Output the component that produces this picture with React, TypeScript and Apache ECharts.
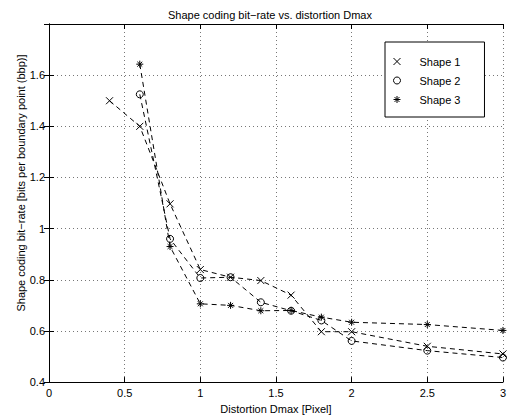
import React, { useEffect, useRef } from "react";
import * as echarts from "echarts";

const distortion = [0.4, 0.6, 0.8, 1.0, 1.2, 1.4, 1.6, 1.8, 2.0, 2.5, 3.0];
const shape1 = [1.5, 1.4, 1.097, 0.84, 0.81, 0.797, 0.74, 0.597, 0.597, 0.54, 0.51];
const shape2x = [0.6, 0.8, 1.0, 1.2, 1.4, 1.6, 1.8, 2.0, 2.5, 3.0];
const shape2 = [1.525, 0.96, 0.807, 0.81, 0.712, 0.679, 0.641, 0.561, 0.523, 0.496];
const shape3x = [0.6, 0.8, 1.0, 1.2, 1.4, 1.6, 1.8, 2.0, 2.5, 3.0];
const shape3 = [1.643, 0.93, 0.706, 0.70, 0.679, 0.68, 0.654, 0.634, 0.625, 0.602];
const seriesNames = ["Shape 1", "Shape 2", "Shape 3"];
const xTicks = [0, 0.5, 1, 1.5, 2, 2.5, 3];
const yTicks = [0.4, 0.6, 0.8, 1, 1.2, 1.4, 1.6];

const titleText = "Shape coding bit\u2212rate vs. distortion Dmax";
const xName = "Distortion Dmax [Pixel]";
const yName = "Shape coding bit\u2212rate [bits per boundary point (bbp)]";

const X_ICON = "path://M0 0L10 10M10 0L0 10";
const STAR_ICON = "path://M5 0L5 10M0 5L10 5M1.5 1.5L8.5 8.5M8.5 1.5L1.5 8.5";
const symbols = [X_ICON, "circle", STAR_ICON];

const FONT = "'Liberation Sans', Arial, Helvetica, sans-serif";

export default function App() {
  const ref = useRef<HTMLDivElement>(null);
  useEffect(() => {
    if (!ref.current) return;
    const chart = echarts.init(ref.current, null, { renderer: "svg", width: 509, height: 419 });
    const fmtX = (v: number) => (xTicks.some((t) => Math.abs(t - v) < 1e-6) ? String(v) : "");
    const fmtY = (v: number) => (yTicks.some((t) => Math.abs(t - v) < 1e-6) ? String(Math.round(v * 10) / 10) : "");
    const axisCommon = {
      axisLine: { show: true, lineStyle: { color: "#000", width: 1 } },
      axisTick: { show: true, inside: true, length: 5, lineStyle: { color: "#000" } },
    };
    const gridLine = { show: true, lineStyle: { color: "#777", type: [1, 3], width: 1 } };
    const xs = [distortion, shape2x, shape3x];
    const ys = [shape1, shape2, shape3];
    const series = seriesNames.map((name, i) => ({
      name,
      type: "line",
      data: xs[i].map((x, j) => [x, ys[i][j]]),
      symbol: symbols[i],
      symbolSize: 7,
      showAllSymbol: true,
      lineStyle: { color: "#000", width: 1, type: [5, 4] },
      itemStyle: { color: "transparent", borderColor: "#000", borderWidth: 1 },
      emphasis: { disabled: true },
      z: 3,
    }));
    chart.setOption({
      animation: false,
      backgroundColor: "#fff",
      textStyle: { fontFamily: FONT },
      title: {
        text: titleText,
        left: 163,
        top: 4,
        textStyle: { fontSize: 11, fontWeight: "normal", color: "#000", fontFamily: FONT },
      },
      grid: { left: 49, width: 458, top: 24, height: 360, containLabel: false },
      legend: {
        orient: "vertical",
        left: 385,
        top: 42,
        data: seriesNames.map((n, i) => ({ name: n, icon: symbols[i] })),
        itemWidth: 7,
        itemHeight: 7,
        itemGap: 6,
        padding: [13, 24, 11, 8],
        borderColor: "#000",
        borderWidth: 1,
        backgroundColor: "#fff",
        itemStyle: { color: "transparent", borderColor: "#000", borderWidth: 1 },
        textStyle: { fontSize: 11, color: "#000", fontFamily: FONT, padding: [0, 0, 0, 14], lineHeight: 13 },
        selectedMode: false,
      },
      xAxis: [
        {
          type: "value",
          min: 0,
          max: 3,
          interval: 0.5,
          position: "bottom",
          ...axisCommon,
          axisLabel: { formatter: fmtX, color: "#000", fontSize: 11, margin: 5, fontFamily: FONT },
          splitLine: gridLine,
          name: xName,
          nameLocation: "middle",
          nameGap: 19,
          nameTextStyle: { fontSize: 11, color: "#000", fontFamily: FONT },
        },
        {
          type: "value",
          min: 0,
          max: 3,
          interval: 0.5,
          position: "top",
          ...axisCommon,
          axisLabel: { show: false },
          splitLine: { show: false },
        },
      ],
      yAxis: [
        {
          type: "value",
          min: 0.4,
          max: 1.8,
          interval: 0.2,
          position: "left",
          ...axisCommon,
          axisLabel: { formatter: fmtY, color: "#000", fontSize: 11, margin: 4, fontFamily: FONT },
          splitLine: gridLine,
        },
        {
          type: "value",
          min: 0.4,
          max: 1.8,
          interval: 0.2,
          position: "right",
          ...axisCommon,
          axisLabel: { show: false },
          splitLine: { show: false },
        },
      ],
      graphic: [
        {
          type: "text",
          x: 21,
          y: 183,
          rotation: Math.PI / 2,
          style: {
            text: yName,
            fontSize: 11,
            fill: "#000",
            fontFamily: FONT,
            align: "center",
            verticalAlign: "middle",
          },
        },
      ],
      series,
    });
    return () => chart.dispose();
  }, []);
  return <div ref={ref} style={{ position: "fixed", left: 0, top: 0, width: 509, height: 419 }} />;
}
